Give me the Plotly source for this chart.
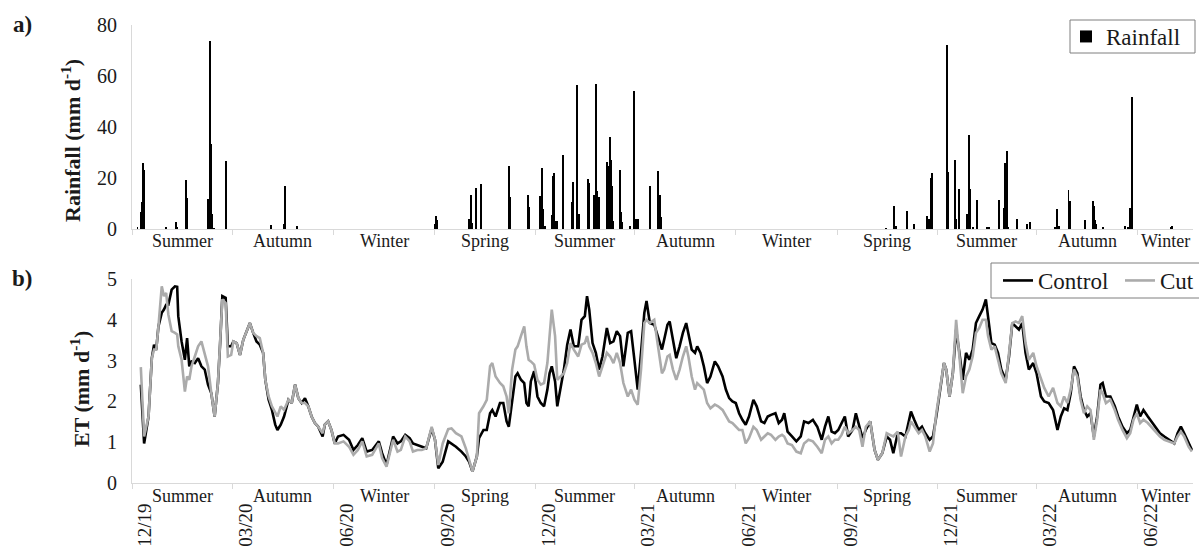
import pandas as pd
import plotly.graph_objects as go

# ---------------------------------------------------------------------------
# Data: days are counted from 1 December 2019
# ---------------------------------------------------------------------------
START = pd.Timestamp("2019-12-01")
END_DAY = 963

rain_day = [5, 8, 9, 10, 11, 31, 40, 41, 49, 50, 69, 71, 72, 73, 74, 85, 126, 138, 139, 150,
            275, 276, 277, 306, 308, 309, 312, 317, 342, 343, 359, 360, 370, 371, 372, 373, 375,
            381, 382, 383, 384, 385, 386, 391, 399, 400, 404, 406, 414, 415, 419, 421, 422, 424,
            431, 432, 434, 435, 436, 437, 443, 444, 445, 452, 456, 457, 458, 459, 470, 477, 479, 480,
            684, 692, 693, 703, 710, 722, 723, 725, 726, 740, 741, 747, 748, 751, 758, 760, 761,
            763, 767, 776, 778, 787, 791, 792, 794, 795, 803, 812, 815, 838, 840, 841, 850, 851,
            865, 872, 873, 874, 875, 881, 901, 904, 906, 908, 943, 944]
rain_mm = [0.5, 6.5, 10.7, 26.0, 23.3, 0.5, 2.7, 0.8, 19.4, 12.2, 11.6, 73.6, 33.2, 6.0, 0.3, 26.6, 1.6, 2.1, 16.8, 1.0,
           1.8, 5.0, 3.4, 3.8, 13.2, 2.4, 16.2, 17.8, 24.7, 12.6, 13.2, 8.6, 12.8, 3.4, 23.8, 7.7, 1.0,
           5.4, 20.7, 22.0, 2.7, 3.1, 3.0, 28.9, 10.6, 18.6, 56.4, 6.0, 19.6, 18.2, 13.2, 56.8, 14.9, 12.6,
           26.3, 24.7, 36.1, 27.2, 16.8, 3.1, 23.3, 6.5, 2.9, 1.0, 54.0, 4.0, 4.0, 4.0, 16.9, 22.6, 13.2, 4.7,
           0.3, 9.2, 1.2, 6.9, 2.1, 5.2, 4.0, 20.0, 22.0, 72.1, 22.4, 27.2, 3.8, 15.8, 5.8, 36.8, 15.8,
           0.8, 11.3, 0.8, 0.5, 11.3, 8.4, 25.7, 30.5, 0.8, 4.0, 1.8, 2.6, 0.5, 7.7, 1.0, 15.2, 11.1,
           3.4, 11.1, 9.0, 3.7, 1.8, 0.5, 1.2, 0.5, 8.1, 51.8, 0.8, 1.0]

et_day = [8, 11, 15, 18, 20, 22, 24, 27, 29, 31, 33, 36, 39, 41, 42, 45, 48, 50, 52, 54,
          57, 60, 63, 66, 69, 72, 75, 78, 80, 82, 85, 87, 90, 92, 95, 98, 101, 104, 107, 110,
          113, 116, 119, 121, 124, 127, 130, 132, 135, 138, 142, 145, 148, 151, 154, 157, 160, 163, 166, 169,
          173, 175, 178, 181, 184, 187, 192, 197, 201, 205, 209, 213, 218, 224, 227, 231, 237,
          241, 244, 248, 252, 255, 259, 263, 267, 272, 275, 278, 282, 287, 290, 294, 299, 303, 306, 309,
          313, 315, 319, 322, 325, 327, 330, 334, 337, 340, 342, 345, 348, 350, 353, 356, 358, 360, 362,
          365, 368, 371, 374, 377, 379, 381, 384, 386, 389, 392, 395, 398, 401, 405, 408, 411, 413, 415,
          418, 421, 424, 427, 431, 434, 437, 440, 443, 446, 450, 453, 456, 459, 462, 465, 467, 470, 474,
          477, 481,
          483, 486, 488, 491, 494, 497, 500, 503, 505, 508, 511, 513, 516, 519, 522, 525, 529, 532, 536,
          539, 542, 545, 548, 551, 554, 557, 560, 564, 567, 571, 574, 577, 580, 584, 587, 590, 592, 595,
          599, 603, 607, 610, 614, 618, 622, 626, 629, 632, 635, 638, 641, 644, 647, 650, 654, 657, 660,
          663, 666, 670, 674, 677, 681, 685, 688, 691, 695, 698, 702, 705, 707, 710, 714, 717, 720,
          724, 727, 730, 733, 737, 739, 742, 745, 748, 751, 754, 757, 760, 763, 766, 769, 772, 775, 777,
          780, 783, 786, 789, 793, 796, 799, 802, 805, 808, 811, 814, 818, 821, 825, 828, 832, 836, 840,
          843, 846, 849, 852, 855, 858, 861, 864, 867, 870, 873, 876, 879, 881, 884, 888, 892, 895, 899,
          903, 906, 909, 912, 915, 918, 922, 926, 930, 933, 937, 941, 946, 949, 952, 955, 959, 962]

et_control = [2.41, 0.97, 1.63, 3.06, 3.39, 3.27, 3.84, 4.17, 4.25, 4.37, 4.37, 4.74, 4.82, 4.81, 4.09, 3.47, 3.02, 3.55, 2.86, 2.98,
              2.94, 3.06, 2.86, 2.78, 2.41, 2.20, 1.63, 2.45, 3.43, 4.58, 4.54, 3.35, 3.35, 3.47, 3.43, 3.14, 3.51, 3.72, 3.92, 3.68,
              3.47, 3.39, 3.19, 2.53, 2.04, 1.79, 1.43, 1.30, 1.43, 1.63, 2.04, 1.96, 2.41, 2.08, 1.96, 2.08, 1.88, 1.63, 1.47, 1.38,
              1.14, 1.43, 1.51, 1.30, 0.97, 1.14, 1.18, 1.06, 0.81, 0.93, 1.10, 0.77, 0.81, 1.02, 0.73, 0.44, 1.14,
              0.97, 1.02, 1.18, 1.10, 0.97, 0.93, 0.89, 0.85, 1.34, 1.06, 0.36, 0.52, 1.02, 0.97, 0.89, 0.77, 0.65, 0.52, 0.28,
              0.65, 1.10, 1.30, 1.30, 1.71, 1.79, 1.63, 1.96, 1.96, 1.51, 1.38, 2.04, 2.61, 2.69, 2.53, 2.45, 1.96, 1.88, 2.49,
              2.74, 2.12, 1.96, 1.88, 2.29, 2.69, 2.86, 2.49, 1.88, 2.37, 2.78, 3.39, 3.76, 3.35, 3.35, 4.00, 4.09, 4.58, 4.25,
              3.43, 3.19, 2.78, 3.10, 3.80, 3.43, 3.47, 3.72, 3.60, 2.86, 3.68, 3.72, 3.02, 2.29, 3.19, 4.17, 4.46, 3.92, 3.88,
              3.60, 3.27,
              3.51, 3.88, 3.96, 3.51, 3.06, 3.35, 3.68, 3.92, 3.64, 3.27, 3.19, 3.35, 3.19, 2.86, 2.45, 2.61, 2.98, 2.86, 2.61,
              2.29, 2.08, 2.00, 1.96, 1.71, 1.55, 1.43, 1.63, 2.04, 1.88, 1.51, 1.47, 1.63, 1.67, 1.71, 1.47, 1.55, 1.71, 1.26,
              1.14, 1.02, 1.14, 1.51, 1.47, 1.55, 1.38, 1.06, 1.38, 1.63, 1.26, 1.22, 1.30, 1.47, 1.63, 1.14, 1.30, 1.71, 1.38,
              1.10, 1.30, 1.51, 0.81, 0.57, 0.73, 1.14, 1.06, 0.73, 1.22, 1.22, 1.14, 1.55, 1.75, 1.55, 1.30, 1.38, 1.22,
              1.06, 1.14, 1.63, 2.20, 2.94, 2.78, 2.12, 2.69, 3.76, 3.19, 2.53, 3.19, 3.02, 3.27, 3.92, 4.09, 4.25, 4.50, 4.09,
              3.43, 3.39, 3.19, 2.78, 2.53, 3.10, 3.92, 3.84, 3.76, 3.92, 3.19, 2.78, 2.94, 2.69, 2.12, 2.00, 1.96, 1.79, 1.30,
              1.63, 1.83, 1.79, 2.20, 2.86, 2.69, 2.12, 1.79, 1.63, 1.71, 1.14, 1.63, 2.41, 2.45, 2.12, 2.12, 1.88, 1.63, 1.38,
              1.22, 1.30, 1.63, 1.92, 1.63, 1.79, 1.63, 1.47, 1.34, 1.22, 1.14, 1.06, 0.97, 1.22, 1.38, 1.22, 0.97, 0.81]

et_cut = [2.84, 1.14, 1.63, 3.06, 3.27, 3.27, 3.84, 4.82, 4.58, 4.66, 4.13, 3.72, 3.68, 3.64, 3.35, 3.02, 2.24, 2.61, 2.53, 2.86,
          3.10, 3.35, 3.47, 3.19, 2.86, 2.20, 1.63, 2.45, 3.43, 4.50, 4.41, 3.10, 3.14, 3.47, 3.43, 3.14, 3.51, 3.72, 3.92, 3.68,
          3.60, 3.55, 3.19, 2.53, 2.12, 1.88, 1.71, 1.63, 1.88, 1.79, 2.04, 1.96, 2.41, 2.08, 1.96, 1.96, 1.88, 1.63, 1.47, 1.38,
          1.22, 1.43, 1.51, 1.30, 0.97, 0.97, 1.02, 0.89, 0.69, 0.81, 1.02, 0.65, 0.69, 0.97, 0.61, 0.40, 1.06,
          0.77, 0.81, 1.14, 1.02, 0.77, 0.81, 0.81, 0.85, 1.38, 1.06, 0.44, 0.97, 1.32, 1.34, 1.22, 1.14, 0.85, 0.57, 0.28,
          0.65, 1.71, 1.88, 2.04, 2.86, 2.94, 2.61, 2.45, 2.37, 2.12, 1.71, 2.78, 3.27, 3.35, 3.60, 3.84, 3.35, 3.02, 2.98,
          2.90, 2.53, 2.41, 2.45, 2.94, 3.60, 4.25, 3.60, 2.53, 2.61, 2.69, 2.94, 3.43, 3.27, 3.10, 3.39, 3.43, 3.60, 3.35,
          3.19, 2.94, 2.61, 2.86, 3.19, 3.10, 2.94, 3.19, 2.94, 2.45, 2.12, 2.29, 2.04, 1.92, 2.78, 3.92, 4.00, 3.92, 4.00,
          3.43, 2.69,
          2.78, 3.10, 3.14, 2.78, 2.53, 2.78, 3.10, 3.35, 3.10, 2.61, 2.29, 2.45, 2.37, 2.29, 1.96, 1.83, 1.92, 1.88, 1.79,
          1.63, 1.51, 1.47, 1.38, 1.30, 1.30, 0.97, 1.10, 1.38, 1.30, 1.06, 1.14, 1.22, 1.18, 1.06, 1.14, 1.18, 1.14, 0.97,
          0.93, 0.77, 0.73, 0.97, 1.06, 1.02, 0.89, 0.73, 1.06, 1.14, 0.97, 1.06, 1.06, 1.18, 1.38, 1.22, 1.30, 1.38, 1.30,
          0.89, 1.38, 1.51, 0.81, 0.57, 0.73, 1.22, 1.18, 1.14, 1.26, 0.65, 1.14, 1.30, 1.51, 1.38, 1.22, 1.30, 1.14,
          0.77, 0.97, 1.71, 2.20, 2.94, 2.78, 2.12, 2.69, 4.00, 3.10, 2.20, 2.61, 2.78, 3.10, 3.68, 3.80, 4.00, 4.00, 3.60,
          3.27, 3.35, 3.02, 2.69, 2.45, 3.19, 3.92, 3.96, 3.92, 4.09, 3.43, 3.02, 3.19, 2.86, 2.53, 2.33, 2.12, 2.33, 1.96,
          1.88, 2.12, 1.96, 2.29, 2.78, 2.61, 2.04, 1.71, 1.88, 1.79, 1.06, 1.55, 2.29, 2.20, 1.96, 2.04, 1.79, 1.55, 1.30,
          1.10, 1.22, 1.55, 1.71, 1.47, 1.55, 1.47, 1.34, 1.22, 1.14, 1.06, 1.02, 0.97, 1.14, 1.26, 1.14, 0.89, 0.77]

quarter_starts = ["2019-12-01", "2020-03-01", "2020-06-01", "2020-09-01", "2020-12-01", "2021-03-01",
                  "2021-06-01", "2021-09-01", "2021-12-01", "2022-03-01", "2022-06-01"]
date_labels = ["12/19", "03/20", "06/20", "09/20", "12/20", "03/21",
               "06/21", "09/21", "12/21", "03/22", "06/22"]
seasons = ["Summer", "Autumn", "Winter", "Spring", "Summer", "Autumn",
           "Winter", "Spring", "Summer", "Autumn", "Winter"]

# ---------------------------------------------------------------------------
FONT = "Times New Roman, Liberation Serif, DejaVu Serif, serif"
TXT = "#1a1a1a"
AXIS_GREY = "#d9d9d9"
BOX_GREY = "#7f7f7f"
W, H = 1199, 552
ML, MR, MT, MB = 132, 6, 25, 69
PW, PH = W - ML - MR, H - MT - MB


def paper_x(px):
    return (px - ML) / PW


def paper_y(py):
    return (H - MB - py) / PH


def to_dates(days):
    return [START + pd.Timedelta(days=d) for d in days]


x_range = [START, START + pd.Timedelta(days=END_DAY)]
q_dates = pd.to_datetime(quarter_starts)
label_pos = [d + pd.Timedelta(days=12) for d in q_dates]
bounds = list(q_dates) + [x_range[1]]
season_mid = [bounds[i] + (bounds[i + 1] - bounds[i]) / 2 for i in range(len(seasons))]

fig = go.Figure()

fig.add_trace(go.Bar(
    x=to_dates(rain_day), y=rain_mm, name="Rainfall",
    marker=dict(color="black", line=dict(width=0)),
    width=0.9 * 86400000, xaxis="x", yaxis="y", legend="legend", showlegend=True,
))
fig.add_trace(go.Scatter(
    x=to_dates(et_day), y=et_control, name="Control", mode="lines",
    line=dict(color="black", width=2.6), xaxis="x2", yaxis="y2", legend="legend2",
))
fig.add_trace(go.Scatter(
    x=to_dates(et_day), y=et_cut, name="Cut", mode="lines",
    line=dict(color="#ababab", width=2.6), xaxis="x2", yaxis="y2", legend="legend2",
))

common_x = dict(
    type="date", range=x_range, showgrid=False, zeroline=False,
    showline=True, linecolor=AXIS_GREY, linewidth=1, ticks="",
    minor=dict(tickmode="array", tickvals=quarter_starts, ticks="outside",
               ticklen=5, tickwidth=1, tickcolor=AXIS_GREY, showgrid=False),
)
common_y = dict(
    showgrid=False, zeroline=False, showline=True, linecolor=AXIS_GREY, linewidth=1,
    ticks="", tickfont=dict(family=FONT, size=20, color=TXT), ticklabelstandoff=10,
)

fig.update_layout(
    width=W, height=H, autosize=False,
    margin=dict(l=ML, r=MR, t=MT, b=MB, autoexpand=False),
    plot_bgcolor="white", paper_bgcolor="white",
    font=dict(family=FONT, color=TXT),
    bargap=0,
    xaxis=dict(common_x, domain=[0, 1], anchor="y", showticklabels=False),
    yaxis=dict(common_y, domain=[paper_y(229), 1], range=[0, 80],
               tickmode="array", tickvals=[0, 20, 40, 60, 80]),
    xaxis2=dict(common_x, domain=[0, 1], anchor="y2", matches="x",
                tickmode="array", tickvals=label_pos, ticktext=date_labels,
                tickangle=-90, ticklabelstandoff=12,
                tickfont=dict(family=FONT, size=19, color=TXT)),
    yaxis2=dict(common_y, domain=[0, paper_y(279)], range=[0, 5],
                tickmode="array", tickvals=[0, 1, 2, 3, 4, 5]),
    legend=dict(x=paper_x(1066), xanchor="left", y=paper_y(36.5), yanchor="middle",
                bgcolor="rgba(0,0,0,0)", borderwidth=0,
                font=dict(family=FONT, size=23, color=TXT)),
    legend2=dict(orientation="h", x=paper_x(998), xanchor="left", y=paper_y(280.5),
                 yanchor="middle", bgcolor="rgba(0,0,0,0)", borderwidth=0,
                 itemwidth=30, entrywidth=77, entrywidthmode="pixels",
                 font=dict(family=FONT, size=23, color=TXT)),
    shapes=[
        dict(type="rect", xref="paper", yref="paper", layer="above",
             x0=paper_x(1070), x1=paper_x(1195), y0=paper_y(53), y1=paper_y(20),
             line=dict(color=BOX_GREY, width=1), fillcolor="white"),
        dict(type="rect", xref="paper", yref="paper", layer="above",
             x0=paper_x(991), x1=paper_x(1210), y0=paper_y(298), y1=paper_y(263),
             line=dict(color=BOX_GREY, width=1), fillcolor="white"),
    ],
)

annotations = []
for name, mid in zip(seasons, season_mid):
    for py in (241, 496):
        annotations.append(dict(
            x=mid, xref="x", y=paper_y(py), yref="paper", text=name, showarrow=False,
            xanchor="center", yanchor="middle", font=dict(family=FONT, size=18, color=TXT),
        ))

annotations += [
    dict(x=paper_x(71), y=paper_y(141), xref="paper", yref="paper", textangle=-90,
         text="<b>Rainfall (mm d<sup>-1</sup>)</b>", showarrow=False,
         xanchor="center", yanchor="middle", font=dict(family=FONT, size=22, color=TXT)),
    dict(x=paper_x(80), y=paper_y(389), xref="paper", yref="paper", textangle=-90,
         text="<b>ET (mm d<sup>-1</sup>)</b>", showarrow=False,
         xanchor="center", yanchor="middle", font=dict(family=FONT, size=22, color=TXT)),
    dict(x=paper_x(22), y=paper_y(24), xref="paper", yref="paper", text="<b>a)</b>",
         showarrow=False, xanchor="center", yanchor="middle",
         font=dict(family=FONT, size=23, color=TXT)),
    dict(x=paper_x(22), y=paper_y(278), xref="paper", yref="paper", text="<b>b)</b>",
         showarrow=False, xanchor="center", yanchor="middle",
         font=dict(family=FONT, size=23, color=TXT)),
]
fig.update_layout(annotations=annotations)

fig.write_html("out.html")
